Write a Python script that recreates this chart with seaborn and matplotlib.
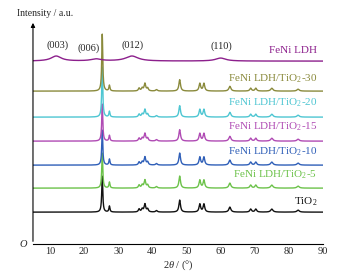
import numpy as np
import pandas as pd
import matplotlib
matplotlib.use('Agg')
import matplotlib.pyplot as plt
import seaborn as sns

sns.set_style('white')
plt.rcParams['font.family'] = ['Liberation Serif', 'DejaVu Serif']
plt.rcParams['mathtext.fontset'] = 'custom'
plt.rcParams['mathtext.rm'] = 'Liberation Serif'
plt.rcParams['mathtext.it'] = 'Liberation Serif:italic'

# 样品名称、颜色、基线位置（纵轴为任意单位）
samples = ['TiO$_2$', 'FeNi LDH/TiO$_2$-5', 'FeNi LDH/TiO$_2$-10', 'FeNi LDH/TiO$_2$-15',
           'FeNi LDH/TiO$_2$-20', 'FeNi LDH/TiO$_2$-30', 'FeNi LDH']
colors = ['#111111', '#6cc24a', '#2f5fb8', '#b04bb4', '#4ec6d2', '#8a8a3c', '#8c1f8c']
baselines = [32, 56, 79, 103, 127, 153, 183]
label_y = [42, 69, 92, 117, 141, 165, 194]

# TiO2 衍射峰位置 (2θ) 与峰高
tio2_pos = [25.3, 27.4, 36.1, 37.0, 37.8, 38.6, 41.2, 48.0, 53.9, 55.1, 62.7, 68.8, 70.3, 75.0, 82.7]
tio2_hw = [0.18, 0.18, 0.25, 0.25, 0.28, 0.25, 0.3, 0.28, 0.28, 0.28, 0.35, 0.3, 0.3, 0.4, 0.4]
tio2_amp = [36, 6, 3, 3, 8, 3, 1.5, 12, 8, 8, 5, 3, 3, 3, 2]
# 各样品主峰(25.3°)高度
main_peak = [36, 35, 35, 37, 50, 57, 0]
scale_other = [1.0, 1.0, 1.0, 0.95, 0.95, 0.95, 0]

# FeNi LDH 宽峰
ldh_pos = [11.8, 23.5, 34.0, 60.0]
ldh_hw = [1.8, 1.8, 2.2, 1.8]
ldh_amp = [5, 2, 5, 3]

# 衍射峰标签
hkl_text = ['(003)', '(006)', '(012)', '(110)']
hkl_x = [12.2, 21.3, 34.3, 60.3]
hkl_y = [199, 196, 199, 198]

two_theta = np.linspace(5, 90, 3400)


def lorentz(x, c, w):
    return 1 / (1 + ((x - c) / w) ** 2)


frames = []
for i, name in enumerate(samples):
    y = np.full_like(two_theta, baselines[i], dtype=float)
    if name == 'FeNi LDH':
        for c, w, a in zip(ldh_pos, ldh_hw, ldh_amp):
            y += a * lorentz(two_theta, c, w)
    else:
        for j, (c, w, a) in enumerate(zip(tio2_pos, tio2_hw, tio2_amp)):
            amp = main_peak[i] if j == 0 else a * scale_other[i]
            y += amp * lorentz(two_theta, c, w)
    frames.append(pd.DataFrame({'2theta': two_theta, 'I': y, 'sample': name}))
df = pd.concat(frames)

fig = plt.figure(figsize=(3.4, 2.79), dpi=100)
ax = fig.add_axes([0.097, 0.125, 0.853, 0.803])

# 先画下层，再画上层
for i, name in enumerate(samples):
    sns.lineplot(data=df[df['sample'] == name], x='2theta', y='I', color=colors[i],
                 linewidth=1.0, ax=ax, legend=False)
    ax.text(88.3, label_y[i], name, color=colors[i], ha='right', va='center', fontsize=8)

for t, x, y in zip(hkl_text, hkl_x, hkl_y):
    ax.text(x, y, t, ha='center', va='center', fontsize=7.5)

ax.set_xlim(5, 90)
ax.set_ylim(0, 224)
ax.set_xticks(range(10, 91, 10))
ax.set_yticks([])
ax.tick_params(axis='x', direction='in', length=3, width=0.6, labelsize=7.5, pad=2)
for s in ['top', 'right', 'left']:
    ax.spines[s].set_visible(False)
ax.spines['bottom'].set_linewidth(0.8)
ax.spines['bottom'].set_color('black')
ax.annotate('', xy=(0, 1.0), xytext=(0, 0), xycoords='axes fraction',
            arrowprops=dict(arrowstyle='-|>', color='black', lw=0.8, mutation_scale=6))
ax.set_xlabel(r'2$\it{\theta}$ / (°)', fontsize=7.5, labelpad=2)
ax.set_ylabel('')
fig.text(17 / 340, 1 - 13 / 279, 'Intensity / a.u.', fontsize=7, ha='left', va='center')
ax.text(-0.02, 0, 'O', transform=ax.transAxes, ha='right', va='center',
        fontsize=7.5, style='italic')

fig.savefig('out.png', dpi=100)
